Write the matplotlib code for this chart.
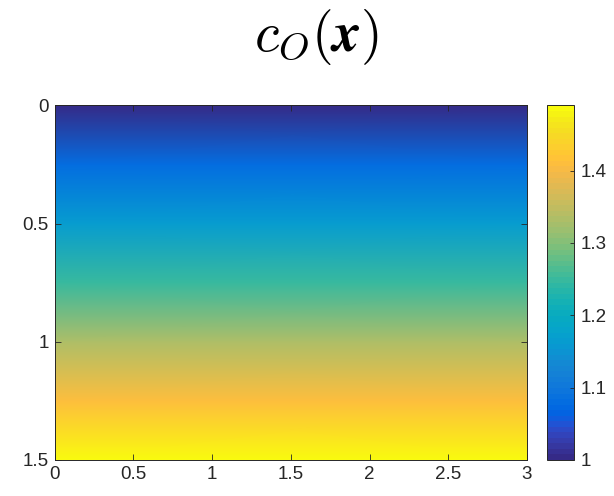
import numpy as np
import matplotlib
matplotlib.use("Agg")
import matplotlib.pyplot as plt
from matplotlib.colors import ListedColormap

# MATLAB parula, 64 entries
parula_rgb = [
    [0.2081, 0.1663, 0.5292], [0.2116, 0.1898, 0.5777], [0.2123, 0.2138, 0.6270],
    [0.2081, 0.2386, 0.6771], [0.1959, 0.2645, 0.7279], [0.1707, 0.2919, 0.7792],
    [0.1253, 0.3242, 0.8303], [0.0591, 0.3598, 0.8683], [0.0117, 0.3875, 0.8820],
    [0.0060, 0.4086, 0.8828], [0.0165, 0.4266, 0.8786], [0.0329, 0.4430, 0.8720],
    [0.0498, 0.4586, 0.8641], [0.0629, 0.4737, 0.8554], [0.0723, 0.4887, 0.8467],
    [0.0779, 0.5040, 0.8384], [0.0793, 0.5200, 0.8312], [0.0749, 0.5375, 0.8263],
    [0.0641, 0.5570, 0.8240], [0.0488, 0.5772, 0.8228], [0.0343, 0.5966, 0.8199],
    [0.0265, 0.6137, 0.8135], [0.0239, 0.6287, 0.8038], [0.0231, 0.6418, 0.7913],
    [0.0228, 0.6535, 0.7768], [0.0267, 0.6642, 0.7607], [0.0384, 0.6743, 0.7436],
    [0.0590, 0.6838, 0.7254], [0.0843, 0.6928, 0.7062], [0.1133, 0.7015, 0.6859],
    [0.1453, 0.7098, 0.6646], [0.1801, 0.7177, 0.6424], [0.2178, 0.7250, 0.6193],
    [0.2586, 0.7317, 0.5954], [0.3022, 0.7376, 0.5712], [0.3482, 0.7424, 0.5473],
    [0.3953, 0.7459, 0.5244], [0.4420, 0.7481, 0.5033], [0.4871, 0.7491, 0.4840],
    [0.5300, 0.7491, 0.4661], [0.5709, 0.7485, 0.4494], [0.6099, 0.7473, 0.4337],
    [0.6473, 0.7456, 0.4188], [0.6834, 0.7435, 0.4044], [0.7184, 0.7411, 0.3905],
    [0.7525, 0.7384, 0.3768], [0.7858, 0.7356, 0.3633], [0.8185, 0.7327, 0.3498],
    [0.8507, 0.7299, 0.3360], [0.8824, 0.7274, 0.3217], [0.9139, 0.7258, 0.3063],
    [0.9450, 0.7261, 0.2886], [0.9739, 0.7314, 0.2666], [0.9938, 0.7455, 0.2403],
    [0.9990, 0.7653, 0.2164], [0.9955, 0.7861, 0.1967], [0.9880, 0.8066, 0.1794],
    [0.9789, 0.8271, 0.1633], [0.9697, 0.8481, 0.1475], [0.9626, 0.8705, 0.1309],
    [0.9589, 0.8949, 0.1132], [0.9598, 0.9218, 0.0948], [0.9661, 0.9514, 0.0755],
    [0.9763, 0.9831, 0.0538],
]
parula = ListedColormap(parula_rgb, name="parula")

# c_O profile versus depth (constant along x)
depth = [0.0, 0.25, 0.5, 0.75, 1.0, 1.25, 1.5]
c_o = [1.00, 1.08, 1.165, 1.25, 1.33, 1.41, 1.49]
x_range = [0.0, 3.0]

x_ticks = [0, 0.5, 1, 1.5, 2, 2.5, 3]
x_ticklabels = ["0", "0.5", "1", "1.5", "2", "2.5", "3"]
y_ticks = [0, 0.5, 1, 1.5]
y_ticklabels = ["0", "0.5", "1", "1.5"]
cb_ticks = [1.0, 1.1, 1.2, 1.3, 1.4]
cb_ticklabels = ["1", "1.1", "1.2", "1.3", "1.4"]

plt.rcParams["mathtext.fontset"] = "cm"
plt.rcParams["font.family"] = ["Liberation Sans", "DejaVu Sans"]
axis_gray = (0.15, 0.15, 0.15)

fig = plt.figure(figsize=(6.14, 4.96), dpi=100)
ax = fig.add_axes([0.0888, 0.0726, 0.7695, 0.7147])
cax = fig.add_axes([0.8909, 0.0726, 0.0440, 0.7147])

C = np.column_stack([c_o, c_o])
mesh = ax.pcolormesh(x_range, depth, C, shading="gouraud", cmap=parula,
                     vmin=min(c_o), vmax=max(c_o))
ax.set_xlim(0, 3)
ax.set_ylim(1.5, 0)
ax.set_xticks(x_ticks)
ax.set_xticklabels(x_ticklabels)
ax.set_yticks(y_ticks)
ax.set_yticklabels(y_ticklabels)
ax.tick_params(direction="in", top=True, right=True, length=4, width=0.6,
               colors=axis_gray, labelsize=13.5, labelcolor=axis_gray, pad=4)
for s in ax.spines.values():
    s.set_color(axis_gray)
    s.set_linewidth(0.7)

fig.text(0.515, 0.925, r"$c_O(\boldsymbol{x})$", fontsize=40,
         ha="center", va="center", color="black")

cb = fig.colorbar(mesh, cax=cax)
cb.set_ticks(cb_ticks)
cb.set_ticklabels(cb_ticklabels)
cb.ax.tick_params(direction="in", length=3, width=0.6, colors=axis_gray,
                  labelsize=13.5, labelcolor=axis_gray, pad=5)
cb.outline.set_edgecolor(axis_gray)
cb.outline.set_linewidth(0.7)

fig.savefig("out.png", dpi=100)
